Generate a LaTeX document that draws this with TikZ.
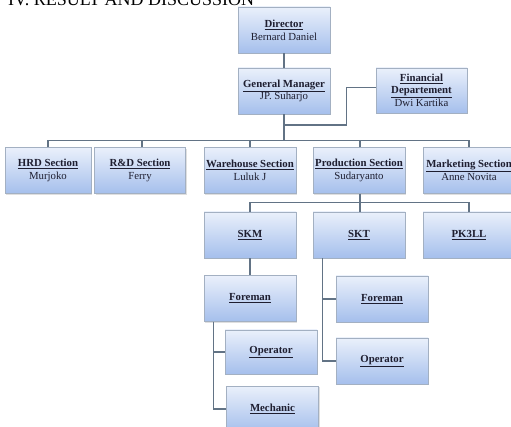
\documentclass[tikz,border=0pt]{standalone}
\usepackage{fontspec}
\setmainfont{Liberation Serif}
\usetikzlibrary{shadows}
\definecolor{linec}{HTML}{627385}
\definecolor{boxtop}{HTML}{EAF0FB}
\definecolor{boxbot}{HTML}{A5BFEC}
\definecolor{boxdraw}{HTML}{A3B0C2}
\definecolor{txt}{HTML}{1E1E30}
\begin{document}
\begin{tikzpicture}[x=1pt,y=-1pt,
  every node/.style={font=\fontsize{10.8}{12.8}\selectfont, text=txt},
  orgbox/.style={draw=boxdraw, line width=0.5pt, top color=boxtop, bottom color=boxbot,
    minimum width=92pt, minimum height=46pt, align=center, inner sep=0pt,
    drop shadow={opacity=0.25, shadow xshift=1.2pt, shadow yshift=-1.2pt}},
  conn/.style={draw=linec, line width=1.1pt}]
\clip (0,0) rectangle (511,427);
\fill[white] (0,0) rectangle (511,427);
\node[anchor=base west, inner sep=0pt, text=black, font=\fontsize{18}{20}\selectfont] (title) at (8,5.5) {IV. RESULT AND DISCUSSION};

\node[orgbox] (dir) at (284,30) {\underline{\textbf{Director}}\\Bernard Daniel};
\node[orgbox] (gm) at (284,91) {\underline{\textbf{General Manager}}\\JP. Suharjo};
\node[orgbox, minimum width=91pt, minimum height=45pt] (fin) at (421.5,90.5) {\underline{\textbf{Financial}}\\[-1pt]\underline{\textbf{Departement}}\\Dwi Kartika};

\node[orgbox, minimum width=86pt] (hrd) at (48,170.5) {\underline{\textbf{HRD Section}}\\Murjoko};
\node[orgbox, minimum width=91pt] (rd) at (140,170.5) {\underline{\textbf{R\&D Section}}\\Ferry};
\node[orgbox] (wh) at (250,170.5) {\underline{\textbf{Warehouse Section}}\\Luluk J};
\node[orgbox] (prod) at (359,170.5) {\underline{\textbf{Production Section}}\\Sudaryanto};
\node[orgbox] (mkt) at (469,170.5) {\underline{\textbf{Marketing Section}}\\Anne Novita};

\node[orgbox] (skm) at (250,235) {\underline{\textbf{SKM}}};
\node[orgbox] (skt) at (359,235) {\underline{\textbf{SKT}}};
\node[orgbox] (pk) at (469,235) {\underline{\textbf{PK3LL}}};

\node[orgbox] (lfor) at (250,298.5) {\underline{\textbf{Foreman}}};
\node[orgbox, minimum height=44pt] (lop) at (271,352) {\underline{\textbf{Operator}}};
\node[orgbox] (mech) at (272.5,409) {\underline{\textbf{Mechanic}}};

\node[orgbox] (rfor) at (382,299) {\underline{\textbf{Foreman}}};
\node[orgbox] (rop) at (382,361) {\underline{\textbf{Operator}}};

\coordinate (j1) at (285,141);
\coordinate (fj) at (285,125);
\draw[conn] (dir.south) -- (gm.north);
\draw[conn] (gm.south) -- (gm.south |- j1);
\draw[conn] ([yshift=3pt]fin.west) -- ++(-29,0) |- (fj);
\draw[conn] (hrd.north) -- ++(0,-7) -| (mkt.north);
\draw[conn] ([xshift=2pt]rd.north) -- ++(0,-7);
\draw[conn] (wh.north) -- ++(0,-7);
\draw[conn] ([xshift=1pt]prod.north) -- ++(0,-7);

\draw[conn] ([xshift=1pt]prod.south) -- ++(0,10);
\draw[conn] (skm.north) -- ++(0,-9) -| (pk.north);
\draw[conn] ([xshift=1pt]skt.north) -- ++(0,-9);

\draw[conn] (skm.south) -- (lfor.north);
\draw[conn] ([xshift=10pt]lfor.south west) |- (lop.west);
\draw[conn] ([xshift=10pt]lfor.south west) |- (mech.west);
\draw[conn] ([xshift=10pt]skt.south west) |- (rfor.west);
\draw[conn] ([xshift=10pt]skt.south west) |- (rop.west);
\end{tikzpicture}
\end{document}
